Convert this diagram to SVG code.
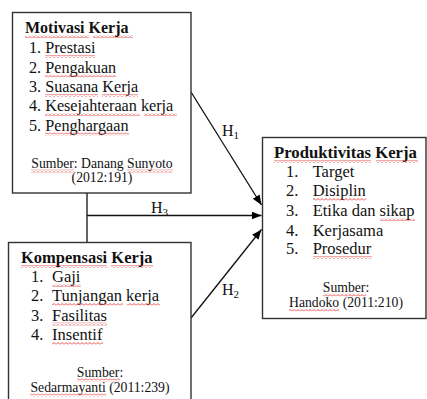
<svg xmlns="http://www.w3.org/2000/svg" width="427" height="399" viewBox="0 0 427 399">
  <style>
    .box{fill:#fff;stroke:#333;stroke-width:1.4}
    .t{font-family:"Liberation Serif","Times New Roman",serif;fill:#111}
    .title{font-weight:bold}
    .src{font-size:13.7px;text-anchor:middle}
    .ln{stroke:#111;stroke-width:1.3;fill:none}
    .sq{fill:url(#squig)}
  </style>
  <defs>
    <pattern id="squig" patternUnits="userSpaceOnUse" width="4" height="3">
      <path d="M0,2.5 L2,0.5 L4,2.5" fill="none" stroke="#e02020" stroke-width="0.8"/>
    </pattern>
    <marker id="arr" markerUnits="userSpaceOnUse" markerWidth="11" markerHeight="9" refX="10" refY="4" orient="auto">
      <path d="M0,0 L10,4 L0,8 z" fill="#000"/>
    </marker>
  </defs>

  <g id="connectors">
    <line class="ln" x1="87" y1="193" x2="87" y2="242"/>
    <line class="ln" x1="87" y1="215.5" x2="261.5" y2="215.5" marker-end="url(#arr)"/>
    <line class="ln" x1="191" y1="92" x2="261.5" y2="205" marker-end="url(#arr)"/>
    <line class="ln" x1="191" y1="318" x2="261.5" y2="229.5" marker-end="url(#arr)"/>
    <text class="t" x="222" y="136" font-size="16">H<tspan font-size="11" dy="3">1</tspan></text>
    <text class="t" x="222" y="295" font-size="16">H<tspan font-size="11" dy="3">2</tspan></text>
    <text class="t" x="151" y="212.5" font-size="16">H<tspan font-size="11" dy="3">3</tspan></text>
  </g>

  <g id="motivasi">
    <rect class="box" x="12.5" y="12.5" width="178.5" height="180.5"/>
    <text class="t title" x="25" y="33" font-size="16">Motivasi Kerja</text>
    <g class="t" font-size="16.2">
      <text x="29" y="53">1. Prestasi</text>
      <text x="29" y="72.5">2. Pengakuan</text>
      <text x="29" y="92">3. Suasana Kerja</text>
      <text x="29" y="111">4. Kesejahteraan kerja</text>
      <text x="29" y="130.5">5. Penghargaan</text>
    </g>
    <text class="t src" x="102" y="168">Sumber: Danang Sunyoto</text>
    <text class="t src" x="102" y="182">(2012:191)</text>
    <rect class="sq" x="25" y="35" width="64" height="3"/>
    <rect class="sq" x="93" y="35" width="40" height="3"/>
    <rect class="sq" x="45" y="55" width="50" height="3"/>
    <rect class="sq" x="45" y="74.5" width="71" height="3"/>
    <rect class="sq" x="45" y="94" width="53" height="3"/>
    <rect class="sq" x="102" y="94" width="36" height="3"/>
    <rect class="sq" x="45" y="113" width="95" height="3"/>
    <rect class="sq" x="144" y="113" width="33" height="3"/>
    <rect class="sq" x="45" y="132.5" width="84" height="3"/>
    <rect class="sq" x="31" y="169.5" width="43" height="3"/>
    <rect class="sq" x="127" y="169.5" width="46" height="3"/>
  </g>

  <g id="kompensasi">
    <rect class="box" x="8.5" y="242.5" width="182.5" height="170"/>
    <text class="t title" x="21" y="263" font-size="16.5">Kompensasi Kerja</text>
    <g class="t" font-size="16.5">
      <text x="31" y="282">1.</text><text x="52" y="282">Gaji</text>
      <text x="31" y="301">2.</text><text x="52" y="301">Tunjangan kerja</text>
      <text x="31" y="320.5">3.</text><text x="52" y="320.5">Fasilitas</text>
      <text x="31" y="340">4.</text><text x="52" y="340">Insentif</text>
    </g>
    <text class="t src" x="100" y="377">Sumber:</text>
    <text class="t src" x="100" y="392">Sedarmayanti (2011:239)</text>
    <rect class="sq" x="21" y="265" width="86" height="3"/>
    <rect class="sq" x="111" y="265" width="42" height="3"/>
    <rect class="sq" x="52" y="284" width="29" height="3"/>
    <rect class="sq" x="52" y="303" width="71" height="3"/>
    <rect class="sq" x="127" y="303" width="33" height="3"/>
    <rect class="sq" x="52" y="322.5" width="55" height="3"/>
    <rect class="sq" x="52" y="342" width="51" height="3"/>
    <rect class="sq" x="77" y="378.5" width="43" height="3"/>
    <rect class="sq" x="30" y="393.5" width="76" height="3"/>
  </g>

  <g id="produktivitas">
    <rect class="box" x="262.5" y="137.5" width="163.5" height="181"/>
    <text class="t title" x="274" y="158" font-size="16.7">Produktivitas Kerja</text>
    <g class="t" font-size="16.5">
      <text x="286" y="177">1.</text><text x="312.7" y="177">Target</text>
      <text x="286" y="196">2.</text><text x="312.7" y="196">Disiplin</text>
      <text x="286" y="216">3.</text><text x="312.7" y="216">Etika dan sikap</text>
      <text x="286" y="235.5">4.</text><text x="312.7" y="235.5">Kerjasama</text>
      <text x="286" y="254">5.</text><text x="312.7" y="254">Prosedur</text>
    </g>
    <text class="t src" x="346" y="292">Sumber:</text>
    <text class="t src" x="346" y="307">Handoko (2011:210)</text>
    <rect class="sq" x="274" y="160" width="97" height="3"/>
    <rect class="sq" x="376" y="160" width="42" height="3"/>
    <rect class="sq" x="313" y="198" width="53" height="3"/>
    <rect class="sq" x="380" y="218" width="35" height="3"/>
    <rect class="sq" x="313" y="256" width="59" height="3"/>
    <rect class="sq" x="323" y="293.5" width="43" height="3"/>
    <rect class="sq" x="289" y="308.5" width="50" height="3"/>
  </g>
</svg>
